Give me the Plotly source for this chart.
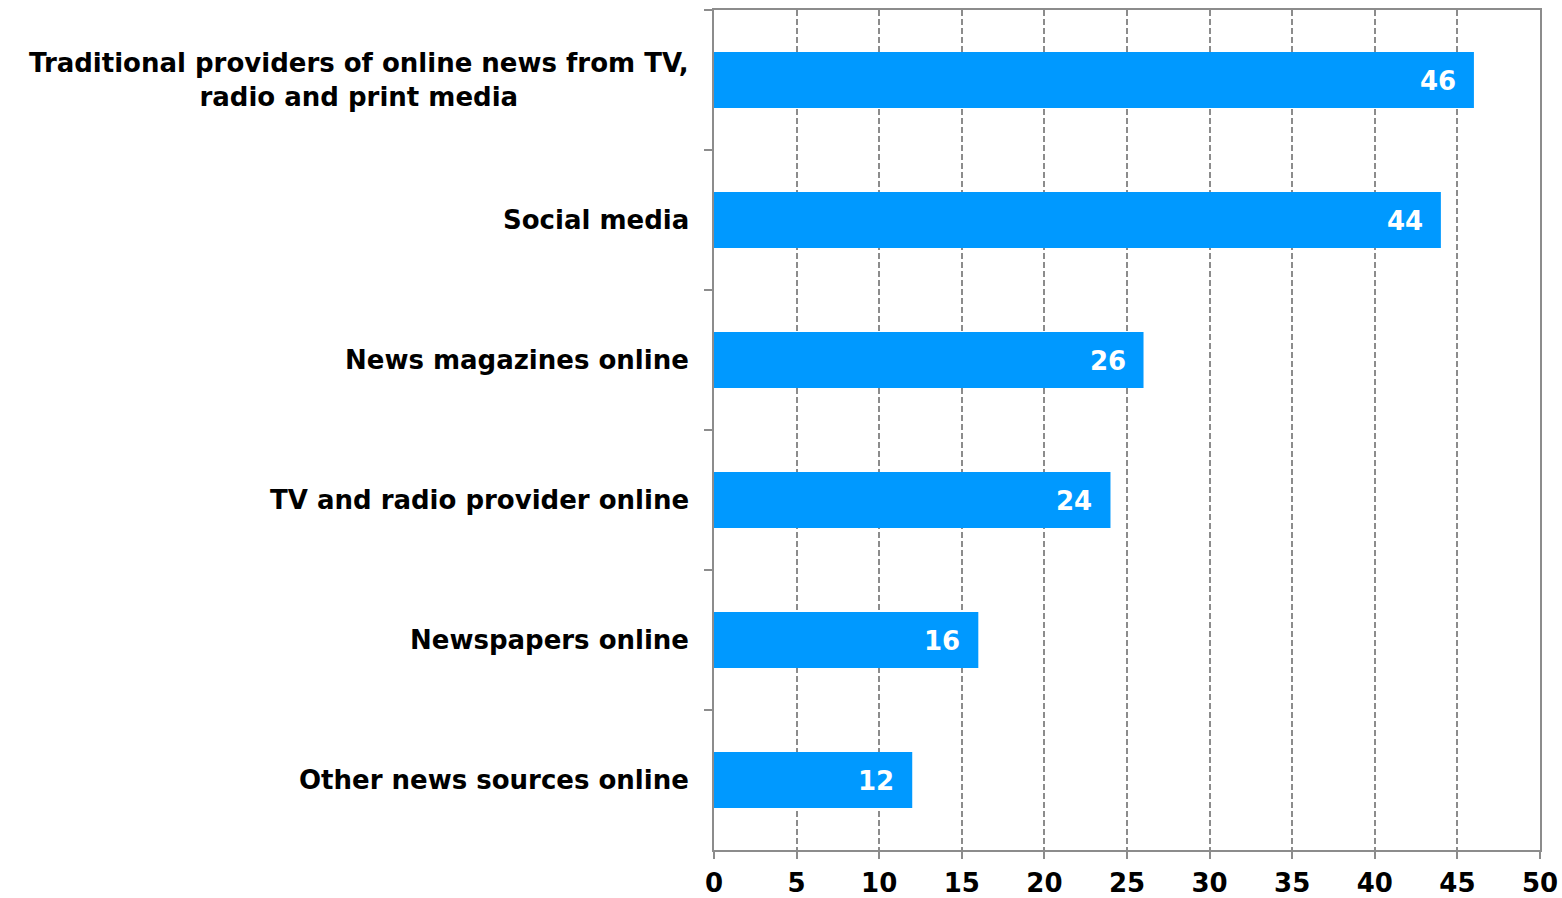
import plotly.graph_objects as go

categories = [
    "Traditional providers of online news from TV,<br>radio and print media",
    "Social media",
    "News magazines online",
    "TV and radio provider online",
    "Newspapers online",
    "Other news sources online",
]
values = [46, 44, 26, 24, 16, 12]
x_ticks = list(range(0, 55, 5))

FONT = "DejaVu Sans"
BAR = "#0099FF"
AXIS = "#8c8c8c"
FS = 26

fig = go.Figure()
fig.add_trace(go.Bar(
    y=categories, x=values, orientation="h",
    marker=dict(color=BAR, line=dict(width=0)),
    width=0.4, hoverinfo="skip",
))

annotations = []
for c, v in zip(categories, values):
    annotations.append(dict(
        x=0, xref="paper", y=c, yref="y", text="<b>%s</b>" % c,
        showarrow=False, xanchor="right", yanchor="middle", align="center",
        xshift=-23, font=dict(family=FONT, size=FS, color="black"),
    ))
    annotations.append(dict(
        x=v, xref="x", y=c, yref="y", text="<b>%d</b>" % v,
        showarrow=False, xanchor="right", yanchor="middle",
        xshift=-16, yshift=-1, font=dict(family=FONT, size=FS, color="white"),
    ))

fig.update_layout(
    width=1562, height=898,
    margin=dict(l=714, r=22, t=10, b=48, autoexpand=False),
    paper_bgcolor="white", plot_bgcolor="white",
    showlegend=False,
    annotations=annotations,
    xaxis=dict(
        range=[0, 50], tickvals=x_ticks, ticktext=[str(t) for t in x_ticks],
        showgrid=True, gridcolor=AXIS, gridwidth=1.5, griddash="6px,3px",
        showline=True, linecolor=AXIS, linewidth=2, mirror=True,
        ticks="outside", ticklen=7, tickcolor=AXIS, tickwidth=2,
        tickfont=dict(family=FONT, size=FS, color="black", weight="bold"),
        ticklabelstandoff=2, zeroline=False, fixedrange=True, automargin=False,
    ),
    yaxis=dict(
        autorange="reversed", type="category",
        showgrid=False, showline=True, linecolor=AXIS, linewidth=2, mirror=True,
        ticks="outside", tickson="boundaries", ticklen=8, tickcolor=AXIS, tickwidth=2,
        showticklabels=False, zeroline=False, fixedrange=True, automargin=False,
    ),
)

fig.write_html("out.html")
